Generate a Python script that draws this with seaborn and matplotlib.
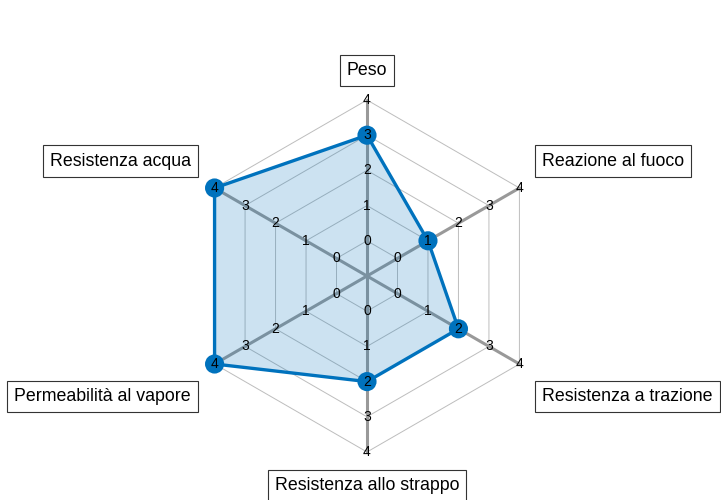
import numpy as np
import matplotlib
matplotlib.use("Agg")
import matplotlib.pyplot as plt
import seaborn as sns

# data
categories = ["Peso", "Reazione al fuoco", "Resistenza a trazione",
              "Resistenza allo strappo", "Permeabilità al vapore", "Resistenza acqua"]
values = [3, 1, 2, 2, 4, 4]
tick_levels = [0, 1, 2, 3, 4]

sns.set_theme(style="white")
plt.rcParams['font.family'] = ['Liberation Sans', 'DejaVu Sans']

W, H = 721, 500
fig = plt.figure(figsize=(W / 100, H / 100), dpi=100)
ax = fig.add_axes([0, 0, 1, 1])

# pixel layout: centre of the web and size of one radial unit
cx, cy, unit = 367, 276, 35.2
ax.set_xlim(-cx / unit, (W - cx) / unit)
ax.set_ylim(-(H - cy) / unit, cy / unit)
ax.set_aspect("equal")
ax.axis("off")

n = len(categories)
angles = np.pi / 2 - np.arange(n) * 2 * np.pi / n
offset = 1  # level 0 sits one unit out from the centre


def to_xy(level, ang):
    r = level + offset
    return r * np.cos(ang), r * np.sin(ang)


# hexagonal rings
for lv in tick_levels:
    xs, ys = to_xy(lv, np.append(angles, angles[0]))
    ax.plot(xs, ys, color="#bdbdbd", lw=0.7, zorder=1)

# spokes
for a in angles:
    x1, y1 = to_xy(max(tick_levels), a)
    ax.plot([0, x1], [0, y1], color="#999999", lw=2.2, zorder=2)

# data polygon
vx, vy = to_xy(np.array(values), angles)
px, py = np.append(vx, vx[0]), np.append(vy, vy[0])
ax.fill(px, py, color="#0072BD", alpha=0.2, lw=0, zorder=3)
sns.lineplot(x=px, y=py, sort=False, estimator=None, color="#0072BD", lw=2.4,
             ax=ax, zorder=4)
sns.scatterplot(x=vx, y=vy, color="#0072BD", s=190, edgecolor="none", ax=ax, zorder=5)

# tick labels on every spoke
for a in angles:
    for lv in tick_levels:
        tx, ty = to_xy(lv, a)
        ax.text(tx, ty, str(lv), ha="center", va="center", fontsize=10,
                color="black", zorder=6)

# boxed axis labels
lab_r = 5.45
for name, a in zip(categories, angles):
    lx, ly = lab_r * np.cos(a), lab_r * np.sin(a)
    c, s = np.cos(a), np.sin(a)
    if abs(c) < 0.1:
        ha = "center"
        va, ly = ("bottom", ly + 0.15) if s > 0 else ("top", ly - 0.25)
    else:
        ha = "left" if c > 0 else "right"
        lx += 0.25 if c > 0 else -0.28
        va, ly = ("bottom", ly + 0.3) if s > 0 else ("top", ly - 0.45)
    ax.text(lx, ly, name, ha=ha, va=va, fontsize=12.8, color="black", zorder=7,
            bbox=dict(boxstyle="square,pad=0.4", fc="white", ec="#333333", lw=0.8))

fig.savefig("out.png", dpi=100)
